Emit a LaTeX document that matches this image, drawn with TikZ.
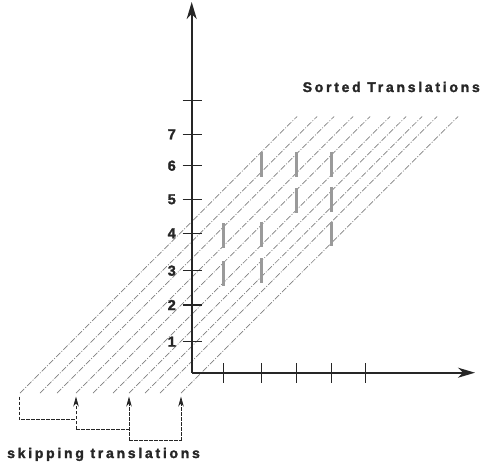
\documentclass[tikz,border=0pt]{standalone}
\usepackage{fontspec}
\setmainfont{Liberation Sans Bold}[FakeBold=1.8]
\newfontfamily\spacedfont{Liberation Sans Bold}[LetterSpace=19.5,FakeBold=1.8]
\usetikzlibrary{arrows.meta}
\definecolor{axisc}{HTML}{262626}
\definecolor{linec}{HTML}{808080}
\definecolor{barc}{HTML}{9A9A9A}
\tikzset{
  axis/.style={draw=axisc, line width=1.6pt, -{Stealth[length=17pt,width=10pt,inset=5pt]}},
  tickmark/.style={draw=axisc, line width=1.4pt},
  ticklab/.style={font=\fontsize{14.5}{15}\selectfont, text=axisc, inner sep=0pt, anchor=east},
  transl/.style={draw=linec, line width=0.7pt, dash pattern=on 6pt off 1.6pt on 1pt off 1.6pt},
  barmark/.style={draw=barc, line width=3pt},
  skipline/.style={draw=axisc, line width=0.8pt, dash pattern=on 3.5pt off 1.5pt},
  skiparrow/.style={skipline, -{Stealth[length=10pt,width=5.5pt,inset=3pt]}},
  titletext/.style={font=\spacedfont\fontsize{14}{15}\selectfont, text=axisc, inner sep=0pt, anchor=base west},
}
\begin{document}
\begin{tikzpicture}[x=1pt,y=-1pt]
\useasboundingbox (0,0) rectangle (486,468);
% translation lines (bottom ends b, top ends t)
\foreach \i/\bx in {1/20,2/40,3/57,4/76,5/93,6/113,7/129,8/145,9/160,10/181}{
  \coordinate (b\i) at (\bx,393);
  \coordinate (t\i) at (\bx+277,116.5);
  \draw[transl] (b\i) -- (t\i);
}
% gray bars
\foreach \x/\ya/\yb in {223.3/223.3/248.3, 223.3/261/285.7,
  261/151.7/176.7, 261/221.7/246.7, 261/258.3/282.7,
  296.3/151.7/176.7, 296.3/188/213,
  331/151.7/176.7, 331/186.7/211.7, 331/221.7/246.2}{
  \draw[barmark] (\x,\ya) -- (\x,\yb);
}
% axes
\coordinate (O) at (191.7,372.7);
\coordinate (xend) at (475,372.7);
\coordinate (yend) at (191.7,2);
\draw[axis] (O) -- (xend);
\draw[axis] (O) -- (yend);
% x ticks
\foreach \x in {223.3,261.7,296.7,331.7,365.3}{
  \draw[tickmark] (\x,363.3) -- (\x,382.7);
}
% y ticks and labels
\foreach \k/\y in {1/341.7,2/305,3/270.7,4/233.3,5/199.3,6/165.7,7/134.3}{
  \draw[tickmark] (182.7,\y) -- (201.7,\y);
  \node[ticklab] (yl\k) at (176,\y) {\k};
}
\draw[tickmark] (182.7,100.7) -- (201.7,100.7);
% skipping brackets
\coordinate (p1) at (19,396.5);
\coordinate (c1) at (19,419.3);
\coordinate (c2) at (76,419.3);
\coordinate (a4) at (76,396.5);
\coordinate (d1) at (76,429.3);
\coordinate (d2) at (129,429.3);
\coordinate (a7) at (129,396.5);
\coordinate (e1) at (129,440.7);
\coordinate (e2) at (181,440.7);
\coordinate (a10) at (181,396.5);
\draw[skipline] (p1) -- (c1) -- (c2);
\draw[skiparrow] (d1) -- (a4);
\draw[skipline] (d1) -- (d2);
\draw[skiparrow] (e1) -- (a7);
\draw[skipline] (e1) -- (e2);
\draw[skiparrow] (e2) -- (a10);
% texts
\node[titletext] (sorted) at (302.5,92) {Sorted Translations};
\node[titletext] (skipping) at (7,458) {skipping translations};
\end{tikzpicture}
\end{document}
